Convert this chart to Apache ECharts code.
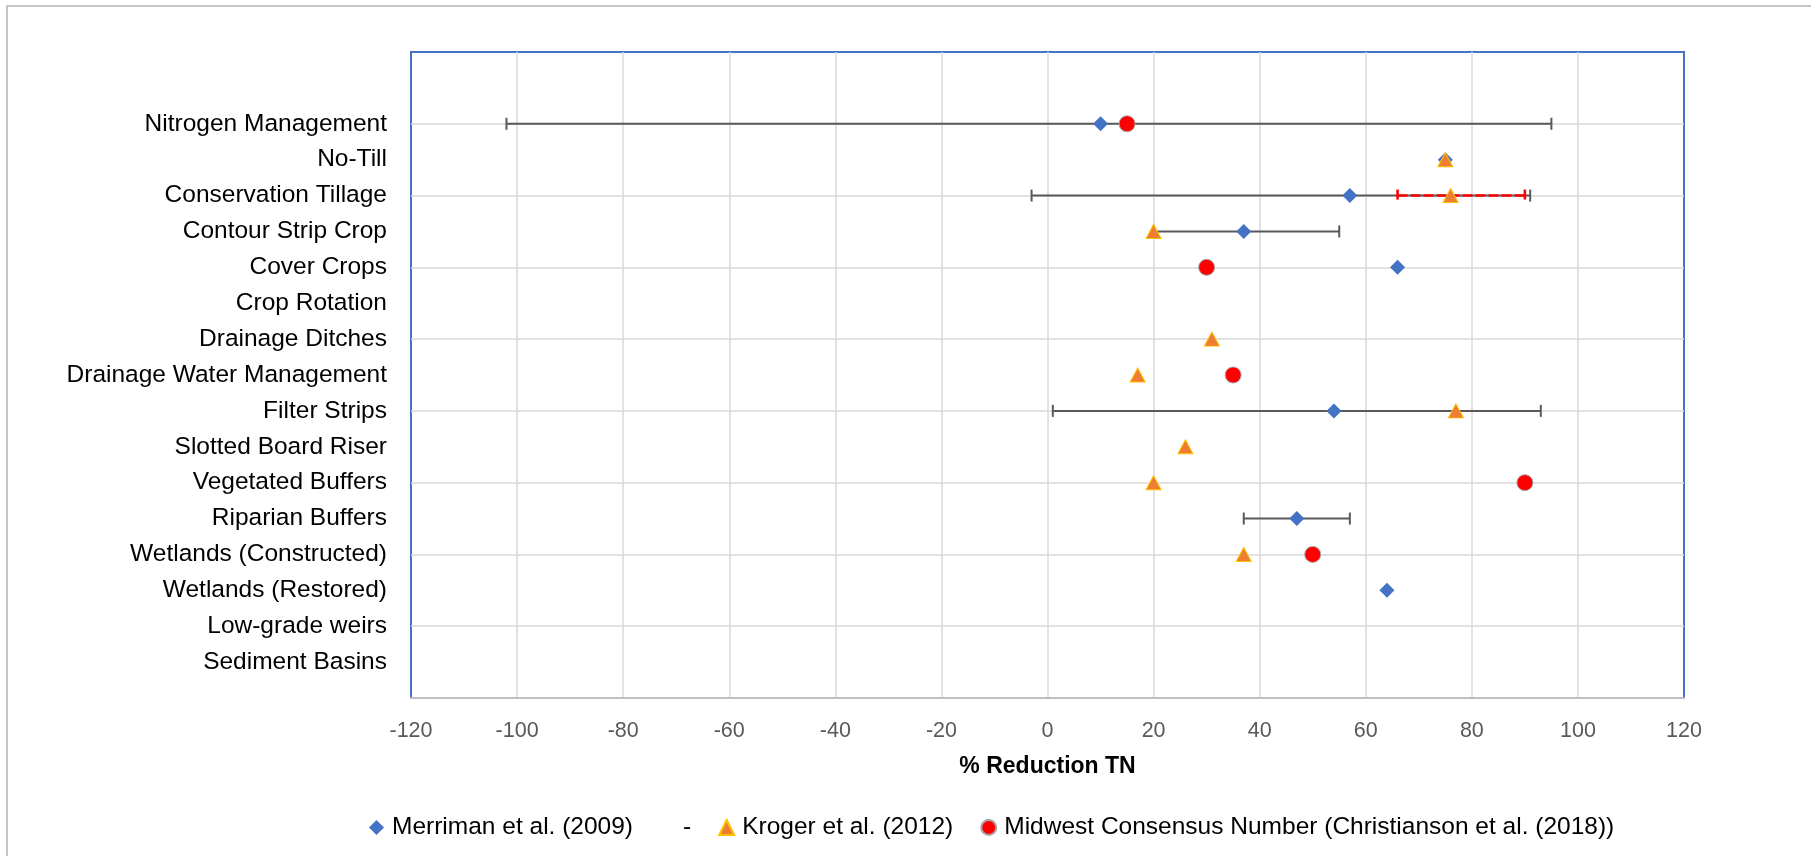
<!DOCTYPE html>
<html>
<head>
<meta charset="utf-8">
<script src="https://cdn.jsdelivr.net/npm/echarts@6/dist/echarts.min.js"></script>
<style>
    html, body { margin: 0; padding: 0; background: #fff; }
    #chart { width: 1811px; height: 856px; }
</style>
</head>
<body>
<div id="chart"></div>
<script>
// BMPs, listed top to bottom
var categories = [
    'Nitrogen Management', 'No-Till', 'Conservation Tillage', 'Contour Strip Crop',
    'Cover Crops', 'Crop Rotation', 'Drainage Ditches', 'Drainage Water Management',
    'Filter Strips', 'Slotted Board Riser', 'Vegetated Buffers', 'Riparian Buffers',
    'Wetlands (Constructed)', 'Wetlands (Restored)', 'Low-grade weirs', 'Sediment Basins'
];

// Merriman et al. (2009): value + range
var merriman     = [10, 75, 57, 37, 66, null, null, null, 54, null, null, 47, null, 64, null, null];
var merrimanLow  = [-102, null, -3, 20, null, null, null, null, 1, null, null, 37, null, null, null, null];
var merrimanHigh = [95, null, 91, 55, null, null, null, null, 93, null, null, 57, null, null, null, null];

// Kroger et al. (2012): value + range
var kroger     = [null, 75, 76, 20, null, null, 31, 17, 77, 26, 20, null, 37, null, null, null];
var krogerLow  = [null, null, 66, null, null, null, null, null, null, null, null, null, null, null, null, null];
var krogerHigh = [null, null, 90, null, null, null, null, null, null, null, null, null, null, null, null, null];

// Midwest consensus number (Christianson et al. 2018)
var consensus = [15, null, null, null, 30, null, null, 35, null, null, 90, null, 50, null, null, null];

// x axis ticks
var xMin = -120, xMax = 120, xStep = 20;

var names = {
    merriman: 'Merriman et al. (2009)',
    range: '-',
    kroger: 'Kroger et al. (2012)',
    consensus: 'Midwest Consensus Number (Christianson et al. (2018))'
};

var FONT = '"Liberation Sans", Arial, sans-serif';
var n = categories.length;

// category i sits at y = n - i (top one highest)
function points(arr) {
    var out = [];
    arr.forEach(function(v, i) {
        if (v !== null) out.push([v, n - i]);
    });
    return out;
}
function ranges(lo, hi) {
    var out = [];
    lo.forEach(function(v, i) {
        if (v !== null && hi[i] !== null) out.push([v, hi[i], n - i]);
    });
    return out;
}

function errorBar(lineStyle) {
    return function(params, api) {
        var y = api.value(2);
        var a = api.coord([api.value(0), y]);
        var b = api.coord([api.value(1), y]);
        var cap = 6;
        return {
            type: 'group',
            children: [
                { type: 'line', shape: { x1: a[0], y1: a[1], x2: b[0], y2: b[1] }, style: lineStyle },
                { type: 'line', shape: { x1: a[0], y1: a[1] - cap, x2: a[0], y2: a[1] + cap }, style: lineStyle },
                { type: 'line', shape: { x1: b[0], y1: b[1] - cap, x2: b[0], y2: b[1] + cap }, style: lineStyle }
            ]
        };
    };
}

var myChart = echarts.init(document.getElementById('chart'));
myChart.setOption({
    animation: false,
    backgroundColor: '#fff',
    textStyle: { fontFamily: FONT },
    graphic: [{
        type: 'rect',
        silent: true,
        z: -10,
        shape: { x: 7, y: 6, width: 2400, height: 2400 },
        style: { fill: 'none', stroke: '#b4b4b4', lineWidth: 1.5 }
    }],
    grid: {
        left: 411, right: 127, top: 52, bottom: 158,
        show: true,
        borderColor: '#4472C4',
        borderWidth: 2,
        outerBoundsMode: 'none'
    },
    legend: {
        left: 364,
        top: 810,
        itemWidth: 15,
        itemHeight: 15,
        itemGap: 27,
        textStyle: { fontFamily: FONT, fontSize: 24.5, color: '#000', padding: [0, 0, 0, 3] },
        data: [
            { name: names.merriman, icon: 'diamond' },
            { name: names.range, icon: 'rect', itemStyle: { opacity: 0 } },
            { name: names.kroger, icon: 'triangle' },
            { name: names.consensus, icon: 'circle' }
        ]
    },
    xAxis: {
        type: 'value',
        min: xMin, max: xMax, interval: xStep,
        name: '% Reduction TN',
        nameLocation: 'middle',
        nameGap: 57,
        nameTextStyle: { fontFamily: FONT, fontSize: 23, fontWeight: 'bold', color: '#000' },
        axisLine: { show: true, onZero: false, lineStyle: { color: '#bfbfbf', width: 2 } },
        axisTick: { show: false },
        axisLabel: { fontFamily: FONT, fontSize: 21.5, color: '#595959', margin: 22 },
        splitLine: { show: true, showMinLine: false, showMaxLine: false, lineStyle: { color: '#d9d9d9', width: 1.5 } }
    },
    yAxis: [{
        type: 'value',
        min: 0, max: n + 2, interval: 2,
        axisLine: { show: false },
        axisTick: { show: false },
        axisLabel: { show: false },
        splitLine: { show: true, showMinLine: false, showMaxLine: false, lineStyle: { color: '#d9d9d9', width: 1.5 } }
    }, {
        type: 'value',
        position: 'left',
        min: 0, max: n + 2, interval: 1,
        axisLine: { show: false },
        axisTick: { show: false },
        splitLine: { show: false },
        axisLabel: {
            fontFamily: FONT, fontSize: 24.5, color: '#000', margin: 24,
            formatter: function(v) {
                var i = n - v;
                return (i >= 0 && i < n) ? categories[i] : '';
            }
        }
    }],
    series: [{
        name: names.range,
        type: 'custom',
        z: 1,
        silent: true,
        itemStyle: { color: '#595959' },
        renderItem: errorBar({ stroke: '#595959', lineWidth: 2 }),
        encode: { x: [0, 1], y: 2 },
        data: ranges(merrimanLow, merrimanHigh)
    }, {
        name: 'Kroger range',
        type: 'custom',
        z: 1.5,
        silent: true,
        renderItem: errorBar({ stroke: '#ff0000', lineWidth: 2.6, lineDash: [10, 3] }),
        encode: { x: [0, 1], y: 2 },
        data: ranges(krogerLow, krogerHigh)
    }, {
        name: names.merriman,
        type: 'scatter',
        z: 3,
        symbol: 'diamond',
        symbolSize: 15,
        itemStyle: { color: '#4472C4', opacity: 1 },
        data: points(merriman)
    }, {
        name: names.kroger,
        type: 'scatter',
        z: 4,
        symbol: 'triangle',
        symbolSize: [15, 14],
        itemStyle: { color: '#ED7D31', borderColor: '#FFC000', borderWidth: 1, opacity: 1 },
        data: points(kroger)
    }, {
        name: names.consensus,
        type: 'scatter',
        z: 5,
        symbol: 'circle',
        symbolSize: 16,
        itemStyle: { color: '#ff0000', borderColor: '#a6a6a6', borderWidth: 1, opacity: 1 },
        data: points(consensus)
    }]
});
</script>
</body>
</html>
